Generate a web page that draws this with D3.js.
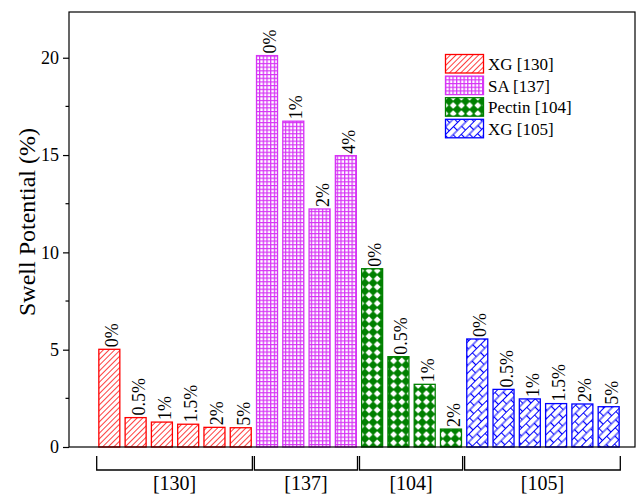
<!DOCTYPE html>
<html>
<head>
<meta charset="utf-8">
<script src="https://cdn.jsdelivr.net/npm/d3@7/dist/d3.min.js"></script>
<style>
  html, body { margin: 0; padding: 0; background: #fff; }
  svg { display: block; }
  text { font-family: "Liberation Serif", "Times New Roman", serif; fill: #000; }
</style>
</head>
<body>
<svg id="chart" width="638" height="497"></svg>
<script>
// Swell potential by additive dosage for four polymer studies
const groups = ["[130]", "[137]", "[104]", "[105]"];
const seriesNames = ["XG [130]", "SA [137]", "Pectin [104]", "XG [105]"];
const doseLabels = [
  ["0%", "0.5%", "1%", "1.5%", "2%", "5%"],
  ["0%", "1%", "2%", "4%"],
  ["0%", "0.5%", "1%", "2%"],
  ["0%", "0.5%", "1%", "1.5%", "2%", "5%"]
];
const xg130 = [5.02, 1.51, 1.28, 1.17, 1.01, 0.99];
const sa137 = [20.11, 16.74, 12.23, 14.97];
const pectin104 = [9.16, 4.64, 3.22, 0.92];
const xg105 = [5.55, 2.96, 2.47, 2.23, 2.21, 2.07];
const yTicks = [0, 5, 10, 15, 20];
const yMinorTicks = [2.5, 7.5, 12.5, 17.5];

const seriesValues = [xg130, sa137, pectin104, xg105];
const colors = ["#ff0000", "#d633f5", "#008000", "#0000ff"];
const patternIds = ["pat-hatch", "pat-grid", "pat-diamond", "pat-brick"];

const bars = [];
seriesValues.forEach((vals, g) => {
  vals.forEach((v, i) => {
    bars.push({ id: g + "-" + i, group: g, label: doseLabels[g][i], value: v });
  });
});

const svg = d3.select("#chart");
const frame = { left: 69, right: 635, top: 12, bottom: 447 };

const x = d3.scaleBand()
  .domain(bars.map(d => d.id))
  .range([96.2, 621.8])
  .paddingInner(0.163)
  .paddingOuter(0.0815);

const y = d3.scaleLinear().domain([0, 22.35]).range([frame.bottom, frame.top]);

// ---- fill patterns ----
const defs = svg.append("defs");

// red diagonal hatch
const p0 = defs.append("pattern").attr("id", patternIds[0])
  .attr("patternUnits", "userSpaceOnUse").attr("width", 4).attr("height", 4)
  .attr("patternTransform", "rotate(45)");
p0.append("rect").attr("width", 4).attr("height", 4).attr("fill", "#fff");
p0.append("line").attr("x1", 0).attr("y1", 0).attr("x2", 0).attr("y2", 4)
  .attr("stroke", colors[0]).attr("stroke-width", 1.5);

// magenta grid
const p1 = defs.append("pattern").attr("id", patternIds[1])
  .attr("patternUnits", "userSpaceOnUse").attr("width", 3.7).attr("height", 3.7);
p1.append("rect").attr("width", 3.7).attr("height", 3.7).attr("fill", "#fff");
p1.append("path").attr("d", "M0,0.6H3.7M0.6,0V3.7")
  .attr("stroke", colors[1]).attr("stroke-width", 1.3).attr("fill", "none");

// green diamonds
const p2 = defs.append("pattern").attr("id", patternIds[2])
  .attr("patternUnits", "userSpaceOnUse").attr("width", 8.2).attr("height", 8.2)
  .attr("x", 0).attr("y", 0);
p2.append("rect").attr("width", 8.2).attr("height", 8.2).attr("fill", "#fff");
p2.append("path").attr("d", "M4.1,-0.6L8.8,4.1L4.1,8.8L-0.6,4.1Z").attr("fill", colors[2]);

// blue diagonal brick
const p3 = defs.append("pattern").attr("id", patternIds[3])
  .attr("patternUnits", "userSpaceOnUse").attr("width", 12).attr("height", 11)
  .attr("patternTransform", "rotate(-45)");
p3.append("rect").attr("width", 12).attr("height", 11).attr("fill", "#fff");
p3.append("path").attr("d", "M0,0.5H12M0,6H12M0.5,0.5V6M6.5,6V11.5")
  .attr("stroke", colors[3]).attr("stroke-width", 1.2).attr("fill", "none");

// ---- bars ----
svg.append("g").selectAll("rect").data(bars).join("rect")
  .attr("x", d => x(d.id) + 0.5)
  .attr("y", d => y(d.value))
  .attr("width", x.bandwidth() - 1)
  .attr("height", d => y(0) - y(d.value))
  .attr("fill", d => `url(#${patternIds[d.group]})`)
  .attr("stroke", d => colors[d.group])
  .attr("stroke-width", 1.3);

// dosage labels above bars
svg.append("g").selectAll("text").data(bars).join("text")
  .attr("transform", d => `translate(${x(d.id) + x.bandwidth() / 2 + 2.5},${y(d.value) - 2}) rotate(-90)`)
  .attr("dy", "0.36em")
  .attr("text-anchor", "start")
  .attr("font-size", 18)
  .text(d => d.label);

// ---- frame and y axis ----
svg.append("rect")
  .attr("x", frame.left).attr("y", frame.top)
  .attr("width", frame.right - frame.left).attr("height", frame.bottom - frame.top)
  .attr("fill", "none").attr("stroke", "#000").attr("stroke-width", 1.2);

const yAxis = svg.append("g").attr("transform", `translate(${frame.left},0)`);
yAxis.call(d3.axisLeft(y).tickValues(yTicks).tickSize(6).tickPadding(4).tickFormat(d3.format("d")));
yAxis.select(".domain").remove();
yAxis.selectAll(".tick line").attr("stroke", "#000").attr("stroke-width", 1.2);
yAxis.selectAll(".tick text").attr("font-size", 18).attr("fill", "#000");

svg.append("g").selectAll("line").data(yMinorTicks).join("line")
  .attr("x1", frame.left - 3.5).attr("x2", frame.left)
  .attr("y1", d => y(d)).attr("y2", d => y(d))
  .attr("stroke", "#000").attr("stroke-width", 1.2);

svg.append("text")
  .attr("transform", `translate(27,222) rotate(-90)`)
  .attr("text-anchor", "middle")
  .attr("dy", "0.35em")
  .attr("font-size", 24)
  .text("Swell Potential (%)");

// ---- group brackets under the axis ----
const half = (x.step() - x.bandwidth()) / 2;
const brackets = groups.map((name, g) => {
  const ids = bars.filter(b => b.group === g).map(b => b.id);
  return {
    name,
    x0: x(ids[0]) - half + 0.5,
    x1: x(ids[ids.length - 1]) + x.bandwidth() + half - 1.5
  };
});
const bg = svg.append("g");
bg.selectAll("path").data(brackets).join("path")
  .attr("d", d => `M${d.x0},456V470H${d.x1}V456`)
  .attr("fill", "none").attr("stroke", "#000").attr("stroke-width", 1.3);
bg.selectAll("text").data(brackets).join("text")
  .attr("x", d => (d.x0 + d.x1) / 2)
  .attr("y", 490)
  .attr("text-anchor", "middle")
  .attr("font-size", 20)
  .text(d => d.name);

// ---- legend ----
const legend = svg.append("g").attr("transform", "translate(445,54)");
const items = legend.selectAll("g").data(seriesNames).join("g")
  .attr("transform", (d, i) => `translate(0,${i * 21.6})`);
items.append("rect")
  .attr("x", 0.5).attr("y", 0.5).attr("width", 38).attr("height", 18.5)
  .attr("fill", (d, i) => `url(#${patternIds[i]})`)
  .attr("stroke", (d, i) => colors[i]).attr("stroke-width", 1.3);
items.append("text")
  .attr("x", 43).attr("y", 10).attr("dy", "0.35em")
  .attr("font-size", 17)
  .text(d => d);
</script>
</body>
</html>
